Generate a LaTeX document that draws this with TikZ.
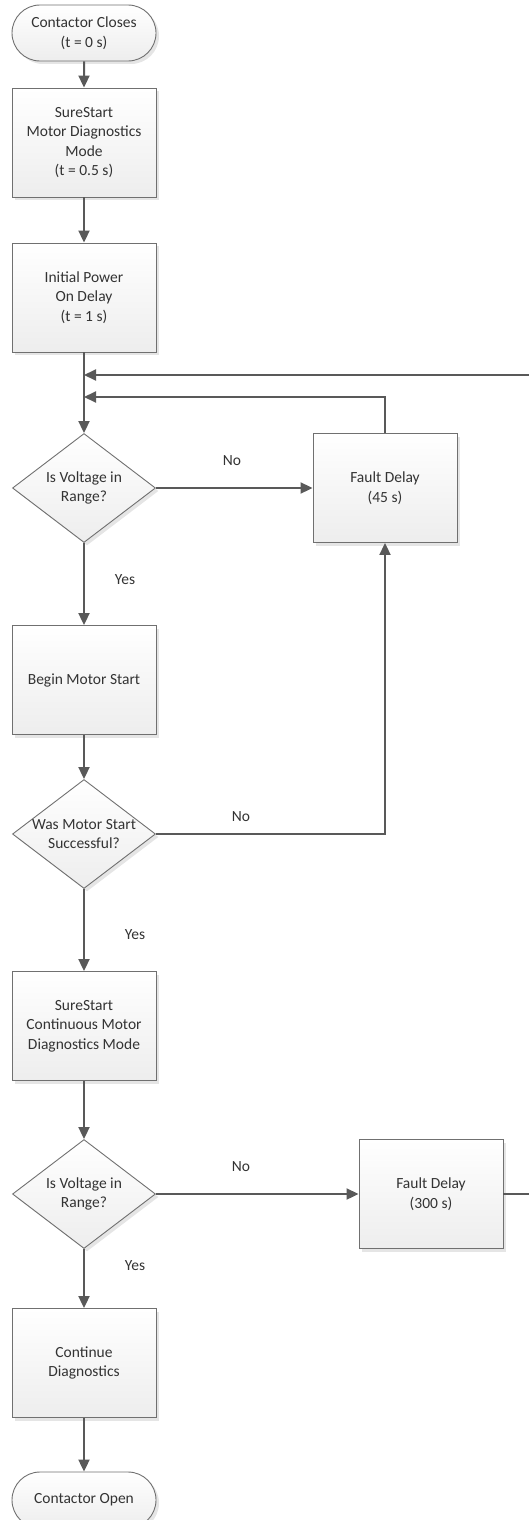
\documentclass[tikz,border=0pt]{standalone}
\usepackage{fontspec}
\setmainfont{Carlito}
\usetikzlibrary{shapes.geometric,shapes.misc,shadows,arrows.meta}
\definecolor{linegray}{HTML}{595959}
\definecolor{edgegray}{HTML}{707070}
\begin{document}
\begin{tikzpicture}[x=1pt,y=-1pt,>={Triangle[length=12pt,width=11pt]},
    font=\fontsize{15.5}{19.5}\selectfont, text=black!80,
    flow/.style={->,line width=2pt,draw=linegray},
    shade box/.style={draw=edgegray,line width=0.9pt,top color=white,bottom color=black!7,
        drop shadow={shadow xshift=3pt,shadow yshift=-3pt,fill=black!10,opacity=1}},
    process/.style={shade box,rectangle,minimum width=144pt,minimum height=109pt,align=center,inner sep=0pt},
    terminal/.style={shade box,rounded rectangle,minimum width=144pt,minimum height=56pt,align=center,inner sep=0pt},
    decision/.style={shade box,diamond,minimum width=143pt,minimum height=109pt,inner sep=0pt},
    lbl/.style={align=center,inner sep=0pt}]
\useasboundingbox (0,0) rectangle (529,1520);
\clip (0,0) rectangle (529,1520);

% main column
\node[terminal] (start) at (84,33) {Contactor Closes\\(t = 0 s)};
\node[process] (diag) at (84,142.5) {SureStart\\Motor Diagnostics\\Mode\\(t = 0.5 s)};
\node[process] (delay) at (84,297.5) {Initial Power\\On Delay\\(t = 1 s)};
\node[decision] (volt1) at (84,488) {};
\node[lbl] (volt1t) at (volt1) {Is Voltage in\\Range?};
\node[process] (begin) at (84,680) {Begin Motor Start};
\node[decision] (ok) at (84,834) {};
\node[lbl] (okt) at (ok) {Was Motor Start\\Successful?};
\node[process] (cont) at (84,1026) {SureStart\\Continuous Motor\\Diagnostics Mode};
\node[decision] (volt2) at (84,1194) {};
\node[lbl] (volt2t) at (volt2) {Is Voltage in\\Range?};
\node[process] (goon) at (84,1363) {Continue\\Diagnostics};
\node[terminal] (stop) at (84,1500) {Contactor Open};

% fault delays
\node[process] (fault1) at (385,488) {Fault Delay\\(45 s)};
\node[process] (fault2) at (431,1194) {Fault Delay\\(300 s)};

\coordinate (m1) at (84,375);
\coordinate (m2) at (84,397);
\coordinate (far) at (545,1194);

\draw[flow] (start) -- (diag);
\draw[flow] (diag) -- (delay);
\draw[flow] (delay) -- (volt1);
\draw[flow] (volt1) -- (begin);
\draw[flow] (begin) -- (ok);
\draw[flow] (ok) -- (cont);
\draw[flow] (cont) -- (volt2);
\draw[flow] (volt2) -- (goon);
\draw[flow] (goon) -- (stop);

\draw[flow] (volt1.east) -- (fault1.west);
\draw[flow] (ok.east) -| (fault1.south);
\draw[flow] (volt2.east) -- (fault2.west);
\draw[flow] (fault1.north) |- (m2);
\draw[flow] (fault2.east) -- (far) |- (m1);

\node[lbl] (no1) at (232,461) {No};
\node[lbl] (no2) at (241,817) {No};
\node[lbl] (no3) at (241,1167) {No};
\node[lbl] (yes1) at (125,580) {Yes};
\node[lbl] (yes2) at (135,935) {Yes};
\node[lbl] (yes3) at (135,1266) {Yes};
\end{tikzpicture}
\end{document}
